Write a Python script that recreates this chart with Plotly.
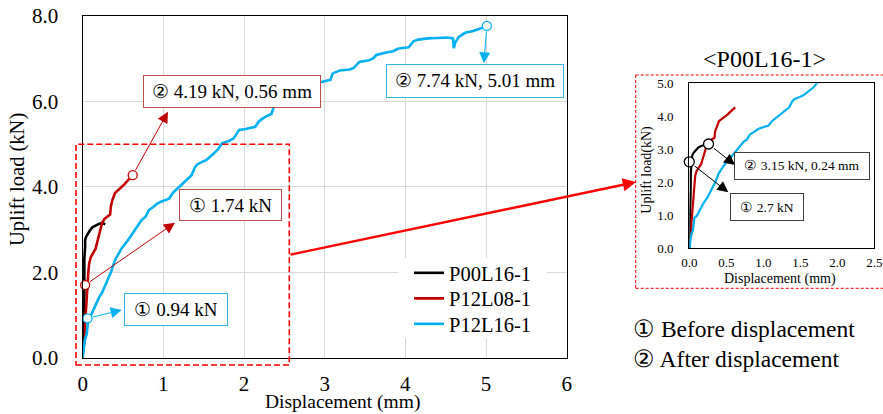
import plotly.graph_objects as go

W, H = 883, 414
FONT = "Liberation Serif"

# ---------------- data ----------------
series_names = ["P00L16-1", "P12L08-1", "P12L16-1"]
series_colors = ["#000000", "#C00000", "#00B0F0"]

p00_x = [0.00, 0.01, 0.01, 0.02, 0.02, 0.02, 0.03, 0.03, 0.04, 0.06, 0.09, 0.12, 0.16, 0.20, 0.24, 0.28]
p00_y = [0.00, 0.40, 0.90, 1.40, 1.90, 2.30, 2.60, 2.75, 2.82, 2.90, 2.98, 3.05, 3.10, 3.13, 3.15, 3.12]

p12l08_x = [0.02, 0.03, 0.03, 0.04, 0.05, 0.05, 0.06, 0.07, 0.08, 0.10, 0.13, 0.16, 0.18, 0.20,
            0.22, 0.24, 0.27, 0.31, 0.34, 0.35, 0.37, 0.40, 0.44, 0.48, 0.52, 0.56, 0.60, 0.62]
p12l08_y = [0.30, 0.50, 0.80, 1.10, 1.40, 1.60, 1.74, 2.00, 2.20, 2.35, 2.45, 2.55, 2.70, 2.85,
            3.00, 3.15, 3.25, 3.30, 3.35, 3.55, 3.70, 3.85, 3.92, 3.98, 4.06, 4.15, 4.22, 4.27]

p12l16_x = [0.00, 0.01, 0.02, 0.03, 0.05, 0.06, 0.07, 0.10, 0.14, 0.17, 0.20, 0.24, 0.30, 0.35,
            0.40, 0.44, 0.48, 0.55, 0.59, 0.64, 0.70, 0.73, 0.78, 0.82, 0.87, 0.92, 0.97, 1.02,
            1.07, 1.12, 1.17, 1.23, 1.30, 1.35, 1.39, 1.42, 1.48, 1.53, 1.58, 1.63, 1.68, 1.73,
            1.80, 1.87, 1.91, 1.94, 2.02, 2.09, 2.14, 2.18, 2.22, 2.29, 2.34, 2.37, 2.46, 2.58,
            2.70, 2.82, 2.94, 3.02, 3.07, 3.10, 3.19, 3.31, 3.36, 3.43, 3.55, 3.60, 3.64, 3.76,
            3.85, 3.90, 3.94, 4.04, 4.10, 4.16, 4.28, 4.40, 4.52, 4.59, 4.60, 4.62, 4.66, 4.74,
            4.84, 4.93, 5.01]
p12l16_y = [0.00, 0.15, 0.35, 0.45, 0.55, 0.90, 0.93, 0.98, 1.15, 1.28, 1.40, 1.52, 1.78, 2.00,
            2.28, 2.42, 2.55, 2.72, 2.83, 2.95, 3.12, 3.22, 3.30, 3.45, 3.52, 3.60, 3.65, 3.68,
            3.72, 3.86, 3.95, 4.05, 4.18, 4.27, 4.45, 4.52, 4.58, 4.62, 4.70, 4.78, 4.88, 5.02,
            5.06, 5.13, 5.25, 5.33, 5.35, 5.37, 5.40, 5.52, 5.58, 5.66, 5.70, 5.87, 5.98, 6.10,
            6.22, 6.32, 6.44, 6.48, 6.50, 6.65, 6.72, 6.74, 6.78, 6.92, 6.96, 7.00, 7.08, 7.14,
            7.17, 7.22, 7.24, 7.26, 7.40, 7.44, 7.47, 7.48, 7.49, 7.47, 7.24, 7.38, 7.50, 7.60,
            7.64, 7.70, 7.76]

series_x = [p00_x, p12l08_x, p12l16_x]
series_y = [p00_y, p12l08_y, p12l16_y]

# key points (main chart): label, x, y, series index
main_kp_labels = ["② 4.19 kN, 0.56 mm", "② 7.74 kN, 5.01 mm", "① 1.74 kN", "① 0.94 kN"]
main_kp_x = [0.62, 5.01, 0.03, 0.06]
main_kp_y = [4.27, 7.76, 1.70, 0.92]
main_kp_series = [1, 2, 1, 2]

# key points (inset, P00L16-1)
inset_kp_labels = ["② 3.15 kN, 0.24 mm", "① 2.7 kN"]
inset_kp_x = [0.26, 0.00]
inset_kp_y = [3.16, 2.62]

main_x_ticks = [0, 1, 2, 3, 4, 5, 6]
main_y_ticks = [0.0, 2.0, 4.0, 6.0, 8.0]
inset_x_ticks = [0.0, 0.5, 1.0, 1.5, 2.0, 2.5]
inset_y_ticks = [0.0, 1.0, 2.0, 3.0, 4.0, 5.0]

notes = ["① Before displacement", "② After displacement"]


def px(x):
    return x / W


def py(y):
    return 1 - y / H


fig = go.Figure()

legend_ids = ["legend", "legend2", "legend3"]
legend_rows = [273, 298.5, 324]

# main chart series
for name, col, xs, ys, lg in zip(series_names, series_colors, series_x, series_y, legend_ids):
    fig.add_trace(go.Scatter(x=xs, y=ys, mode="lines", name=name, legend=lg,
                             line=dict(color=col, width=2.6), xaxis="x", yaxis="y"))
# inset series
for name, col, xs, ys in zip(series_names, series_colors, series_x, series_y):
    fig.add_trace(go.Scatter(x=xs, y=ys, mode="lines", name=name, showlegend=False,
                             line=dict(color=col, width=2.2), xaxis="x2", yaxis="y2"))

# key point circles
fig.add_trace(go.Scatter(x=main_kp_x, y=main_kp_y, mode="markers", showlegend=False,
                         cliponaxis=False,
                         marker=dict(size=9, color="white", symbol="circle",
                                     line=dict(color=[series_colors[i] for i in main_kp_series], width=1.3)),
                         xaxis="x", yaxis="y"))
fig.add_trace(go.Scatter(x=inset_kp_x, y=inset_kp_y, mode="markers", showlegend=False,
                         cliponaxis=False,
                         marker=dict(size=10, color="white", symbol="circle",
                                     line=dict(color="#000000", width=1.3)),
                         xaxis="x2", yaxis="y2"))

annotations = []
shapes = []

# ---- arrows from key points to label boxes ----
main_heads = [(1.057, 5.754), (4.973, 6.887), (1.144, 3.158), (0.483, 1.116)]
for (hx, hy), kx, ky, si in zip(main_heads, main_kp_x, main_kp_y, main_kp_series):
    annotations.append(dict(x=hx, y=hy, xref="x", yref="y", ax=kx, ay=ky, axref="x", ayref="y",
                            text="", showarrow=True, arrowhead=2, arrowsize=2.2, arrowwidth=1,
                            arrowcolor=series_colors[si], startstandoff=4, standoff=0))
inset_heads = [(0.618, 2.524), (0.527, 1.697)]
for (hx, hy), kx, ky in zip(inset_heads, inset_kp_x, inset_kp_y):
    annotations.append(dict(x=hx, y=hy, xref="x2", yref="y2", ax=kx, ay=ky, axref="x2", ayref="y2",
                            text="", showarrow=True, arrowhead=2, arrowsize=2.2, arrowwidth=1,
                            arrowcolor="#000000", startstandoff=5, standoff=0))

# ---- label boxes ----
box_border = {1: "#C0504D", 2: "#33B5E5"}
main_boxes = [(231.5, 91.8, 177, 31.7), (474.7, 81.3, 177.3, 32.7),
              (230.5, 205.0, 102.4, 31.4), (175.8, 309.8, 103, 31.7)]
for lab, (cx, cy, bw, bh), si in zip(main_kp_labels, main_boxes, main_kp_series):
    annotations.append(dict(x=px(cx), y=py(cy), xref="paper", yref="paper", text=lab,
                            showarrow=False, xanchor="center", yanchor="middle",
                            width=bw - 1, height=bh - 1, borderpad=0, borderwidth=1,
                            bordercolor=box_border[si], bgcolor="white",
                            font=dict(family=FONT, size=19, color="#000000")))
inset_boxes = [(801.8, 166.0, 135, 26.6), (766.7, 207.0, 73.3, 27.4)]
for lab, (cx, cy, bw, bh) in zip(inset_kp_labels, inset_boxes):
    annotations.append(dict(x=px(cx), y=py(cy), xref="paper", yref="paper", text=lab,
                            showarrow=False, xanchor="center", yanchor="middle",
                            width=bw - 1, height=bh - 1, borderpad=0, borderwidth=1,
                            bordercolor="#404040", bgcolor="white",
                            font=dict(family=FONT, size=13.5, color="#000000")))


def label(x, y, text, size, angle=0, xanchor="center"):
    return dict(x=px(x), y=py(y), xref="paper", yref="paper", text=text, textangle=angle,
                showarrow=False, xanchor=xanchor, yanchor="middle",
                font=dict(family=FONT, size=size, color="black"))


# ---- axis titles & texts ----
annotations += [
    label(342.5, 402, "Displacement (mm)", 19.5),
    label(18, 180, "Uplift load (kN)", 20.5, angle=-90),
    label(780, 279.3, "Displacement (mm)", 14),
    label(646.7, 170, "Uplift load(kN)", 14, angle=-90),
    label(764, 59, "&lt;P00L16-1&gt;", 24),
    label(631, 329.3, notes[0], 23.5, xanchor="left"),
    label(631, 359.3, notes[1], 23.5, xanchor="left"),
]

# big red arrow from zoom box to inset
annotations.append(dict(x=px(636), y=py(182), xref="paper", yref="paper", ax=289 - 636, ay=255 - 182,
                        axref="pixel", ayref="pixel", text="", showarrow=True, arrowhead=2,
                        arrowsize=1.1, arrowwidth=2.4, arrowcolor="#FF0000", standoff=0))

# white backing box behind the legend entries (covers gridlines, as in the original)
shapes.append(dict(type="rect", xref="paper", yref="paper", x0=px(398), x1=px(547),
                   y0=py(338), y1=py(258), fillcolor="white", line=dict(width=0), layer="above"))

# dashed zoom rectangle on main chart
shapes.append(dict(type="rect", xref="paper", yref="paper", x0=px(76), x1=px(289.3),
                   y0=py(365), y1=py(144.3), line=dict(color="#FF0000", width=1.6, dash="6px,3px")))
# dashed frame around inset (open on the right)
for (x0, y0, x1, y1) in [(635.7, 75, 883, 75), (635.7, 75, 635.7, 288.3), (635.7, 288.3, 883, 288.3)]:
    shapes.append(dict(type="line", xref="paper", yref="paper", x0=px(x0), y0=py(y0), x1=px(x1), y1=py(y1),
                       line=dict(color="#FF0000", width=1, dash="3px,2px")))

axis_common = dict(showline=True, mirror=True, linecolor="black", zeroline=False,
                   ticks="", automargin=False)

legend_layout = {}
for lg, row in zip(legend_ids, legend_rows):
    legend_layout[lg] = dict(x=px(409), y=py(row), xanchor="left", yanchor="middle",
                             bgcolor="rgba(0,0,0,0)",
                             borderwidth=0, font=dict(family=FONT, size=20.5, color="black"),
                             itemwidth=30, tracegroupgap=0)

fig.update_layout(
    width=W, height=H,
    margin=dict(l=0, r=0, t=0, b=0),
    paper_bgcolor="white", plot_bgcolor="white",
    font=dict(family=FONT, color="black"),
    xaxis=dict(domain=[px(82.7), px(566.7)], range=[0, 6], tickvals=main_x_ticks,
               showgrid=True, gridcolor="#D9D9D9", gridwidth=1, linewidth=1.3,
               ticklabelstandoff=7, anchor="y", tickfont=dict(family=FONT, size=21, color="black"),
               **axis_common),
    yaxis=dict(domain=[py(357.7), py(15.7)], range=[0, 8], tickvals=main_y_ticks, tickformat=".1f",
               showgrid=True, gridcolor="#D9D9D9", gridwidth=1, linewidth=1.3,
               ticklabelstandoff=19, anchor="x", tickfont=dict(family=FONT, size=21, color="black"),
               **axis_common),
    xaxis2=dict(domain=[px(689.3), px(874.3)], range=[0, 2.5], tickvals=inset_x_ticks, tickformat=".1f",
                showgrid=False, linewidth=1.2, ticklabelstandoff=2, anchor="y2",
                tickfont=dict(family=FONT, size=13, color="black"), **axis_common),
    yaxis2=dict(domain=[py(248.3), py(83.3)], range=[0, 5], tickvals=inset_y_ticks, tickformat=".1f",
                showgrid=False, linewidth=1.2, ticklabelstandoff=12, anchor="x2",
                tickfont=dict(family=FONT, size=13, color="black"), **axis_common),
    annotations=annotations,
    shapes=shapes,
    **legend_layout,
)

fig.write_html("out.html")
